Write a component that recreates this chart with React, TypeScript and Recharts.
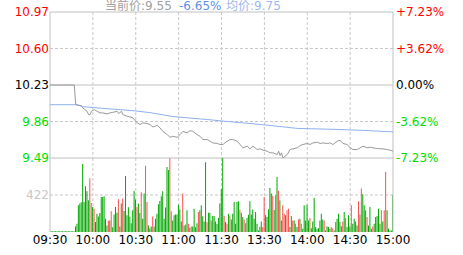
import { LineChart, Line, BarChart, Bar, Cell, XAxis, YAxis, CartesianGrid, ReferenceLine } from 'recharts'

const timeTicks = [0, 30, 60, 90, 120, 150, 180, 210, 240]
const timeLabels = ['09:30', '10:00', '10:30', '11:00', '11:30', '13:30', '14:00', '14:30', '15:00']
const priceTicks = [9.49, 9.86, 10.23, 10.6, 10.97]
const prevClose = 10.23
const volumeTicks = [422]
const volumeMax = 844

// minute index (0 = 09:30, 240 = 15:00) -> price
const priceMinute = [
  0, 17, 18, 22, 23, 26, 27, 28, 29, 31, 33, 35, 37, 40, 42, 44, 47, 48, 50, 51,
  54, 56, 58, 61, 63, 65, 68, 70, 72, 75, 77, 79, 82, 84, 86, 89, 91, 93, 96, 98,
  100, 103, 105, 107, 110, 112, 114, 117, 119, 121, 124, 126, 128, 131, 133, 135, 138, 140, 142, 145,
  147, 149, 152, 154, 156, 159, 160, 161, 162, 163, 166, 168, 170, 173, 175, 177, 180, 182, 184, 187,
  189, 191, 194, 196, 198, 201, 203, 205, 208, 210, 212, 215, 217, 219, 222, 224, 226, 229, 231, 233,
  236, 238, 240,
]
const priceValue = [
  10.23, 10.23, 10.03, 10.02, 9.997, 9.963, 9.93, 9.93, 9.963, 9.98, 9.963, 9.947, 9.947, 9.937, 9.947, 9.953, 9.963, 9.94, 9.963, 9.93,
  9.913, 9.907, 9.896, 9.846, 9.83, 9.846, 9.84, 9.83, 9.805, 9.82, 9.795, 9.76, 9.727, 9.7, 9.71, 9.7, 9.727, 9.76, 9.745, 9.767,
  9.76, 9.727, 9.71, 9.677, 9.677, 9.66, 9.643, 9.637, 9.627, 9.627, 9.66, 9.677, 9.677, 9.66, 9.627, 9.593, 9.61, 9.583, 9.61, 9.576,
  9.583, 9.569, 9.559, 9.543, 9.543, 9.525, 9.559, 9.515, 9.543, 9.49, 9.525, 9.576, 9.583, 9.593, 9.616, 9.627, 9.637, 9.627, 9.643, 9.65,
  9.637, 9.643, 9.637, 9.643, 9.627, 9.66, 9.67, 9.637, 9.627, 9.593, 9.576, 9.576, 9.593, 9.61, 9.593, 9.6, 9.593, 9.586, 9.583, 9.583,
  9.576, 9.569, 9.56,
]

const avgMinute = [0, 19, 23, 40, 58, 70, 86, 110, 124, 140, 154, 173, 201, 219, 240]
const avgValue = [10.03, 10.03, 10.01, 9.99, 9.97, 9.95, 9.91, 9.88, 9.86, 9.84, 9.82, 9.79, 9.78, 9.77, 9.755]

const volume = [
  8, 8, 8, 8, 8, 8, 8, 8, 8, 8,
  8, 8, 8, 8, 8, 8, 8, 8, 63, 94,
  305, 324, 340, 775, 343, 523, 465, 362, 614, 330,
  285, 266, 113, 209, 178, 217, 400, 400, 408, 151,
  75, 132, 132, 236, 55, 201, 285, 220, 373, 63,
  324, 381, 240, 638, 190, 282, 178, 101, 247, 469,
  370, 285, 324, 217, 454, 151, 438, 755, 343, 75,
  40, 63, 178, 63, 151, 209, 316, 354, 408, 465,
  151, 280, 741, 706, 841, 236, 132, 190, 200, 200,
  312, 258, 120, 438, 75, 85, 247, 94, 48, 63,
  63, 266, 55, 101, 228, 247, 305, 180, 120, 795,
  110, 220, 220, 132, 182, 182, 120, 90, 160, 324,
  488, 844, 182, 113, 94, 209, 182, 143, 209, 343,
  94, 343, 350, 258, 220, 170, 143, 101, 159, 197,
  350, 201, 258, 151, 228, 94, 17, 60, 120, 56,
  400, 190, 170, 260, 503, 438, 412, 250, 419, 626,
  470, 362, 132, 305, 209, 190, 247, 266, 56, 182,
  132, 132, 94, 56, 143, 151, 94, 36, 305, 132,
  312, 132, 159, 44, 120, 388, 56, 36, 44, 132,
  209, 143, 132, 17, 67, 56, 36, 56, 44, 17,
  113, 151, 209, 113, 67, 120, 228, 159, 56, 190,
  67, 305, 94, 151, 120, 75, 350, 200, 496, 431,
  305, 247, 170, 75, 285, 36, 63, 94, 170, 182,
  266, 94, 247, 120, 247, 688, 247, 36, 17, 17,
  419,
]
// r = up minute, g = down minute
const volumeDir = (
  'gggggggggg' + 'gggggggggg' + 'ggggggggrr' + 'grgggggggg' + 'grgrggggrg' +
  'grgggggggg' + 'grggrggrrg' + 'ggrggggggg' + 'ggggrrgggg' + 'gggrgrgrgr' +
  'ggggrggggg' + 'rggrgggggg' + 'ggrgrgrggg' + 'gggrggrrgg' + 'gggggggggr' +
  'rgggggrgrg' + 'rggrrgrrgg' + 'rgrgrgrggg' + 'ggrggggggg' + 'ggrggggrrg' +
  'rggggrgrgg' + 'grggggrgrg' + 'ggrgggrggg' + 'ggrgrrgggg' + 'g'
).split('')

const priceData = priceMinute.map((m, k) => ({ m, p: priceValue[k] }))
const avgData = avgMinute.map((m, k) => ({ m, a: avgValue[k] }))
const volumeData = volume.map((v, i) => ({ m: i, v }))

const FONT = '"DejaVu Sans", "Noto Sans CJK SC", sans-serif'
const GRID = '#c8c8c8'
const BORDER = '#c0c0c0'
const UP = '#ff0000'
const DOWN = '#00e000'

const priceColor = (v: number) => (v > prevClose + 1e-6 ? UP : v < prevClose - 1e-6 ? DOWN : '#000')

function LeftPriceTick(props: any) {
  const { x, y, payload } = props
  return (
    <text x={x} y={y} dy="0.355em" textAnchor="end" fontSize={12} fill={priceColor(payload.value)}>
      {payload.value.toFixed(2)}
    </text>
  )
}

function RightPctTick(props: any) {
  const { x, y, payload } = props
  const pct = ((payload.value - prevClose) / prevClose) * 100
  const label = Math.abs(pct) < 0.005 ? '0.00%' : (pct > 0 ? '+' : '') + pct.toFixed(2) + '%'
  return (
    <text x={x} y={y} dy="0.355em" textAnchor="start" fontSize={12} fill={priceColor(payload.value)}>
      {label}
    </text>
  )
}

export default function App() {
  return (
    <div style={{ position: 'absolute', left: 0, top: 0, width: 463, height: 255, fontFamily: FONT, background: '#fff' }}>
      <div style={{ position: 'absolute', left: 0, top: 0 }}>
        <LineChart width={463} height={165} margin={{ top: 12, right: 0, bottom: 7, left: 0 }}>
          <XAxis type="number" dataKey="m" domain={[0, 240]} ticks={timeTicks} hide allowDataOverflow />
          <YAxis
            yAxisId="l"
            orientation="left"
            width={50}
            domain={[9.49, 10.97]}
            ticks={priceTicks}
            interval={0}
            axisLine={false}
            tickLine={false}
            tickSize={0}
            tickMargin={1}
            tick={<LeftPriceTick />}
            allowDataOverflow
          />
          <YAxis
            yAxisId="r"
            orientation="right"
            width={70}
            domain={[9.49, 10.97]}
            ticks={priceTicks}
            interval={0}
            axisLine={false}
            tickLine={false}
            tickSize={0}
            tickMargin={3}
            tick={<RightPctTick />}
            allowDataOverflow
          />
          <CartesianGrid
            yAxisId="l"
            stroke={GRID}
            strokeDasharray="3 2"
            horizontalValues={[10.6, 9.86]}
            verticalValues={[30, 60, 90, 120, 150, 180, 210]}
          />
          <ReferenceLine yAxisId="l" y={10.97} stroke={BORDER} />
          <ReferenceLine yAxisId="l" y={10.23} stroke={BORDER} />
          <ReferenceLine yAxisId="l" y={9.49} stroke={BORDER} />
          <ReferenceLine yAxisId="l" x={0} stroke={BORDER} />
          <ReferenceLine yAxisId="l" x={240} stroke={BORDER} />
          <Line yAxisId="l" data={avgData} dataKey="a" type="linear" stroke="#8fb0f0" strokeWidth={1} dot={false} isAnimationActive={false} />
          <Line yAxisId="l" data={priceData} dataKey="p" type="linear" stroke="#999999" strokeWidth={1} dot={false} isAnimationActive={false} />
        </LineChart>
      </div>
      <div style={{ position: 'absolute', left: 0, top: 158 }}>
        <BarChart width={463} height={97} data={volumeData} margin={{ top: 0, right: 70, bottom: 0, left: 0 }}>
          <XAxis
            type="number"
            dataKey="m"
            domain={[0, 240]}
            ticks={timeTicks}
            tickFormatter={(v: number) => timeLabels[timeTicks.indexOf(v)]}
            axisLine={false}
            tickLine={false}
            tickSize={0}
            tickMargin={3}
            height={23}
            interval={0}
            tick={{ fill: '#000', fontSize: 12 }}
            allowDataOverflow
          />
          <YAxis
            width={50}
            domain={[0, volumeMax]}
            ticks={volumeTicks}
            interval={0}
            axisLine={false}
            tickLine={false}
            tickSize={0}
            tickMargin={1}
            tick={{ fill: '#c8c8c8', fontSize: 12 }}
            allowDataOverflow
          />
          <CartesianGrid
            stroke={GRID}
            strokeDasharray="3 2"
            horizontalValues={[422]}
            verticalValues={[30, 60, 90, 120, 150, 180, 210]}
          />
          <ReferenceLine x={0} stroke={BORDER} />
          <ReferenceLine x={240} stroke={BORDER} />
          <Bar dataKey="v" barSize={1} isAnimationActive={false}>
            {volumeData.map((_, i) => (
              <Cell key={i} fill={volumeDir[i] === 'r' ? '#ff5050' : '#00a800'} />
            ))}
          </Bar>
        </BarChart>
      </div>
      <svg width={463} height={14} style={{ position: 'absolute', left: 0, top: 0 }}>
        <text x={105} y={9.5} fontSize={12} fill="#a0a0a0">当前价:9.55</text>
        <text x={179} y={9.5} fontSize={12} fill="#5f8fe8">-6.65%</text>
        <text x={226} y={9.5} fontSize={12} fill="#9cb8ee">均价:9.75</text>
      </svg>
    </div>
  )
}
